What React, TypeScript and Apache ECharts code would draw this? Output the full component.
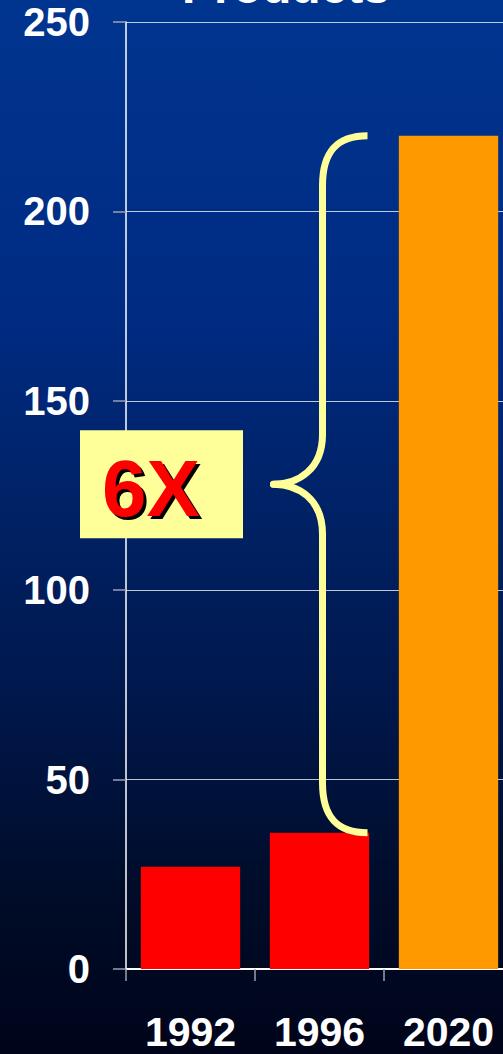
import React, { useEffect, useRef } from "react";
import * as echarts from "echarts";

const categories = ["1992", "1996", "2020"];
const values = [27, 36, 220];
const barColors = ["#FF0000", "#FF0000", "#FF9900"];
const yTicks = [0, 50, 100, 150, 200, 250];
const titleText = "Products";
const ratioLabel = "6X";

export default function App() {
  const ref = useRef<HTMLDivElement>(null);
  useEffect(() => {
    if (!ref.current) return;
    const chart = echarts.init(ref.current, null, { renderer: "svg" });
    const font = "'Liberation Sans', Arial, sans-serif";
    const option: any = {
      animation: false,
      backgroundColor: {
        type: "linear",
        x: 0, y: 0, x2: 0, y2: 1,
        colorStops: [
          { offset: 0, color: "#00358F" },
          { offset: 0.3, color: "#002B82" },
          { offset: 0.48, color: "#002266" },
          { offset: 0.67, color: "#00174A" },
          { offset: 0.85, color: "#000C28" },
          { offset: 1, color: "#00041A" },
        ],
      },
      grid: { left: 126, right: 7, top: 22, bottom: 85, containLabel: false },
      xAxis: {
        type: "category",
        data: categories,
        axisLine: { lineStyle: { color: "#FFFFFF", width: 2 } },
        axisTick: { show: true, length: 12, lineStyle: { color: "#9AA0B0", width: 1.5 } },
        axisLabel: {
          color: "#FFFFFF",
          fontSize: 41,
          fontWeight: "bold",
          fontFamily: font,
          margin: 42,
        },
      },
      yAxis: {
        type: "value",
        min: yTicks[0],
        max: yTicks[yTicks.length - 1],
        interval: 50,
        axisLine: { show: true, lineStyle: { color: "#FFFFFF", width: 1.5 } },
        axisTick: { show: true, length: 13, lineStyle: { color: "#9AA0B0", width: 1.5 } },
        splitLine: { show: true, lineStyle: { color: "rgba(255,255,255,0.75)", width: 1 } },
        axisLabel: {
          color: "#FFFFFF",
          fontSize: 40,
          fontWeight: "bold",
          fontFamily: font,
          margin: 36,
        },
      },
      series: [
        {
          type: "bar",
          data: values.map((v, i) => ({ value: v, itemStyle: { color: barColors[i] } })),
          barWidth: "77%",
        },
      ],
    };
    chart.setOption(option);

    const topPt = chart.convertToPixel({ xAxisIndex: 0, yAxisIndex: 0 }, [1, values[2]]);
    const botPt = chart.convertToPixel({ xAxisIndex: 0, yAxisIndex: 0 }, [1, values[1]]);
    const endX = topPt[0] + 48;
    const spineX = endX - 45;
    const tipX = endX - 94;
    const yTop = topPt[1];
    const yBot = botPt[1];
    const yMid = (yTop + yBot) / 2;
    const r = 50;
    const braceStyle = { stroke: "#FFFF99", lineWidth: 7, fill: null, lineCap: "round" };
    const endStyle = { ...braceStyle, lineCap: "butt" };
    const labelFont = `bold 80px ${font}`;

    chart.setOption({
      graphic: [
        {
          type: "text",
          style: {
            text: titleText,
            x: 286,
            y: 10,
            align: "center",
            verticalAlign: "bottom",
            fill: "#FFFFFF",
            font: `bold 48px ${font}`,
          },
          z: 10,
        },
        {
          type: "bezierCurve",
          shape: { x1: endX, y1: yTop, cpx1: endX - 30, cpy1: yTop, cpx2: spineX, cpy2: yTop + 15, x2: spineX, y2: yTop + r },
          style: endStyle, z: 20,
        },
        {
          type: "line",
          shape: { x1: spineX, y1: yTop + r, x2: spineX, y2: yMid - r },
          style: braceStyle, z: 20,
        },
        {
          type: "bezierCurve",
          shape: { x1: spineX, y1: yMid - r, cpx1: spineX, cpy1: yMid - 15, cpx2: tipX + 25, cpy2: yMid, x2: tipX, y2: yMid },
          style: braceStyle, z: 20,
        },
        {
          type: "bezierCurve",
          shape: { x1: tipX, y1: yMid, cpx1: tipX + 25, cpy1: yMid, cpx2: spineX, cpy2: yMid + 15, x2: spineX, y2: yMid + r },
          style: braceStyle, z: 20,
        },
        {
          type: "line",
          shape: { x1: spineX, y1: yMid + r, x2: spineX, y2: yBot - r },
          style: braceStyle, z: 20,
        },
        {
          type: "bezierCurve",
          shape: { x1: spineX, y1: yBot - r, cpx1: spineX, cpy1: yBot - 15, cpx2: endX - 30, cpy2: yBot, x2: endX, y2: yBot },
          style: endStyle, z: 20,
        },
        {
          type: "rect",
          shape: { x: 80, y: yMid - 54, width: 163, height: 108 },
          style: { fill: "#FFFF99" },
          z: 20,
        },
        {
          type: "text",
          style: {
            text: ratioLabel,
            x: 105,
            y: yMid + 7,
            align: "left",
            verticalAlign: "middle",
            fill: "#000000",
            font: labelFont,
          },
          z: 21,
        },
        {
          type: "text",
          style: {
            text: ratioLabel,
            x: 102,
            y: yMid + 4,
            align: "left",
            verticalAlign: "middle",
            fill: "#FF0000",
            font: labelFont,
          },
          z: 22,
        },
      ],
    });

    return () => chart.dispose();
  }, []);
  return (
    <div
      ref={ref}
      style={{ position: "fixed", left: 0, top: 0, width: 520, height: 1054 }}
    />
  );
}
